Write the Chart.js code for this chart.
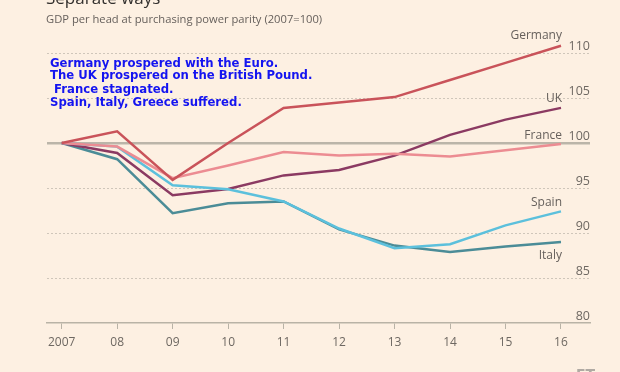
<!DOCTYPE html>
<html>
<head>
<meta charset="utf-8">
<script src="https://cdn.jsdelivr.net/npm/chart.js@4.4.0/dist/chart.umd.min.js"></script>
<style>
  html, body { margin: 0; padding: 0; background: #fdf0e2; }
  canvas { display: block; }
</style>
</head>
<body>
<canvas id="c" width="620" height="372" style="width:620px;height:372px"></canvas>
<script>
const years = [2007, 2008, 2009, 2010, 2011, 2012, 2013, 2014, 2015, 2016];
const xTickLabels = ['2007', '08', '09', '10', '11', '12', '13', '14', '15', '16'];
const yTicks = [80, 85, 90, 95, 100, 105, 110];

const germany = [100, 101.3, 95.9, 100.0, 103.9, 104.5, 105.1, 107.0, 108.9, 110.8];
const uk      = [100, 98.9, 94.2, 94.9, 96.4, 97.0, 98.6, 100.9, 102.6, 103.9];
const france  = [100, 99.6, 96.1, 97.5, 99.0, 98.6, 98.8, 98.5, 99.2, 99.9];
const spain   = [100, 99.6, 95.3, 94.85, 93.5, 90.5, 88.3, 88.75, 90.85, 92.4];
const italy   = [100, 98.2, 92.2, 93.3, 93.5, 90.4, 88.6, 87.9, 88.5, 89.0];

const seriesNames = ['Germany', 'France', 'Spain', 'UK', 'Italy'];
const seriesValues = [germany, france, spain, uk, italy];
const seriesColors = ['#c9535a', '#ec8c92', '#5cc0dc', '#8b3a62', '#4b8c97'];
const labelOffsets = { Germany: -10, UK: -9, France: -8, Spain: -9, Italy: 14 };

const title = 'Separate ways';
const subtitle = 'GDP per head at purchasing power parity (2007=100)';
const noteLines = [
  'Germany prospered with the Euro.',
  'The UK prospered on the British Pound.',
  ' France stagnated.',
  'Spain, Italy, Greece suffered.'
];

const datasets = seriesNames.map((name, i) => ({
  label: name,
  data: years.map((y, j) => ({ x: y, y: seriesValues[i][j] })),
  borderColor: seriesColors[i],
  backgroundColor: seriesColors[i],
  borderWidth: 2.5,
  pointRadius: 0,
  tension: 0,
  clip: false
}));

const textPlugin = {
  id: 'texts',
  afterDraw(chart) {
    const ctx = chart.ctx;
    ctx.save();
    ctx.fillStyle = '#33302e';
    ctx.font = '17px "Open Sans"';
    ctx.textAlign = 'left';
    ctx.textBaseline = 'alphabetic';
    ctx.fillText(title, 46, 4);
    ctx.fillStyle = '#66605c';
    ctx.font = '11.2px "Open Sans"';
    ctx.textBaseline = 'middle';
    ctx.fillText(subtitle, 46, 20);
    ctx.fillStyle = '#1414f0';
    ctx.font = 'bold 11.7px "DejaVu Sans"';
    const ys = [63.5, 76, 89.5, 103];
    noteLines.forEach((t, i) => ctx.fillText(t, 50, ys[i]));
    ctx.fillStyle = '#66605c';
    ctx.font = '12px "Open Sans"';
    ctx.textAlign = 'right';
    chart.data.datasets.forEach((ds, i) => {
      const meta = chart.getDatasetMeta(i);
      const pt = meta.data[meta.data.length - 1];
      ctx.fillText(ds.label, pt.x + 1, pt.y + labelOffsets[ds.label]);
    });
    ctx.fillStyle = '#b0aaa3';
    ctx.font = 'bold 14px "DejaVu Sans"';
    ctx.textAlign = 'left';
    ctx.textBaseline = 'top';
    ctx.fillText('FT', 576, 368);
    ctx.restore();
  }
};

const isHundred = (c) => c.tick && c.tick.value === 100;

new Chart(document.getElementById('c'), {
  type: 'line',
  data: { datasets },
  options: {
    responsive: false,
    devicePixelRatio: 1,
    animation: false,
    layout: { padding: { left: 47, right: 30, top: 53, bottom: 0 } },
    plugins: { legend: { display: false }, tooltip: { enabled: false }, title: { display: false } },
    scales: {
      x: {
        type: 'linear',
        min: 2006.735,
        max: 2016.523,
        afterBuildTicks: (s) => { s.ticks = years.map(v => ({ value: v })); },
        afterFit: (s) => { s.height = 49; },
        ticks: {
          callback: (v) => xTickLabels[years.indexOf(v)],
          color: '#6e6862',
          font: { family: 'Open Sans', size: 12 },
          padding: 6,
          maxRotation: 0,
          autoSkip: false
        },
        grid: { drawOnChartArea: false, drawTicks: true, tickLength: 6, color: '#b9b3a6', lineWidth: 1 },
        border: { display: true, color: '#b9b3a6', width: 1.5 }
      },
      y: {
        position: 'right',
        min: 80,
        max: 110,
        afterBuildTicks: (s) => { s.ticks = yTicks.map(v => ({ value: v })); },
        afterFit: (s) => { s.width = 0; },
        ticks: {
          mirror: true,
          padding: 0,
          labelOffset: -7,
          color: '#6e6862',
          font: { family: 'Open Sans', size: 12.5 }
        },
        grid: {
          drawTicks: false,
          color: (c) => isHundred(c) ? '#bbb5a9' : (c.tick && c.tick.value === 80 ? 'rgba(0,0,0,0)' : '#cfc6ba'),
          lineWidth: (c) => isHundred(c) ? 2.5 : 1
        },
        border: {
          display: false,
          dash: (c) => isHundred(c) ? [] : [2, 2]
        }
      }
    }
  },
  plugins: [textPlugin]
});
</script>
</body>
</html>
